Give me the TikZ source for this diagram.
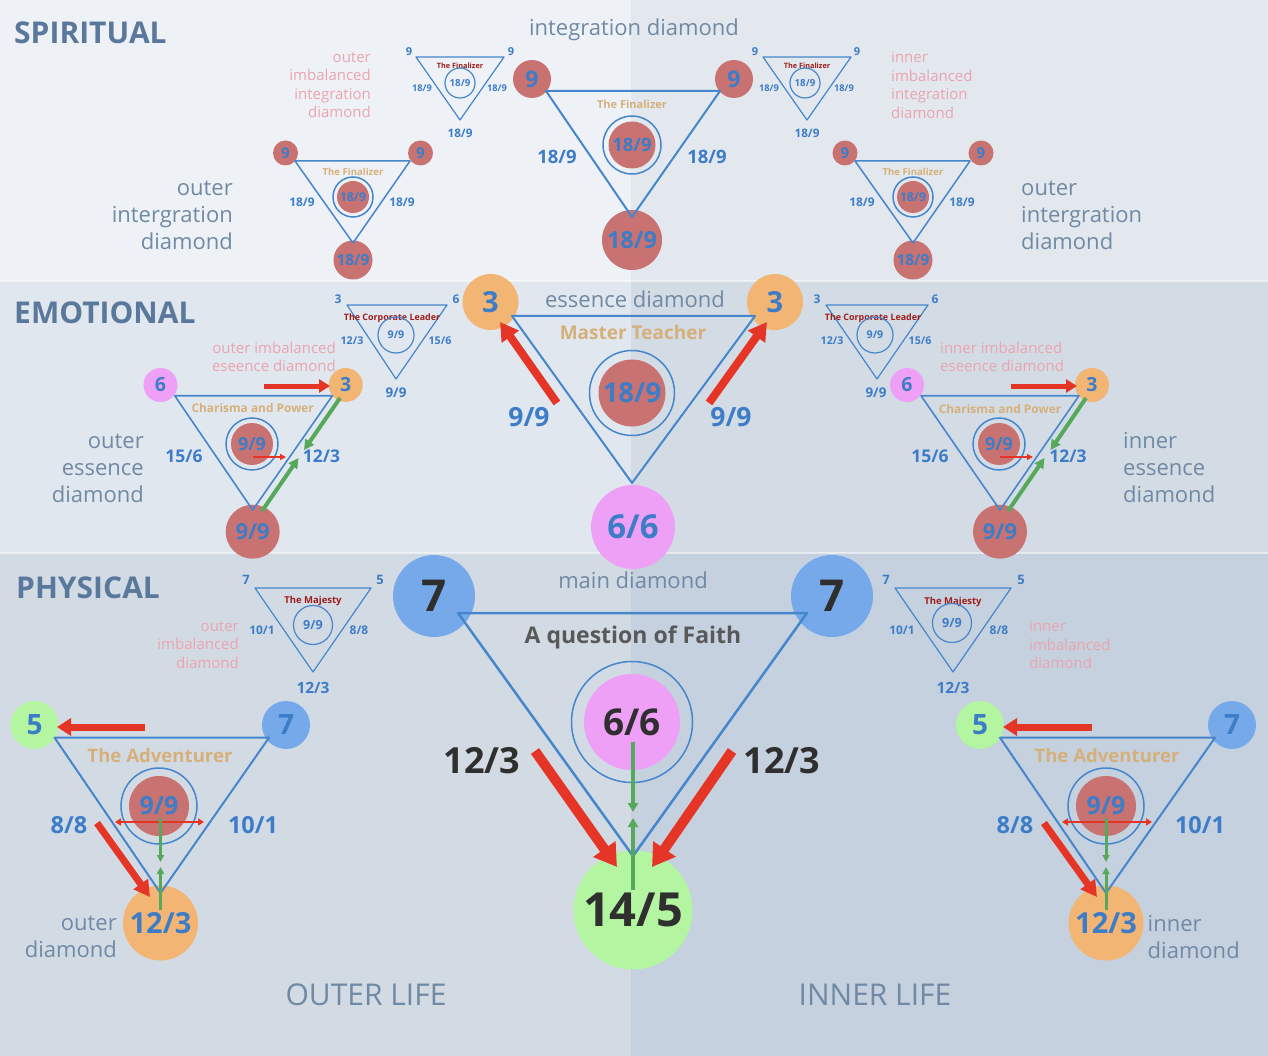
\documentclass[tikz,border=0pt]{standalone}
\usepackage{fontspec}
\setmainfont{Open Sans}
\usetikzlibrary{arrows.meta}

\definecolor{bgSL}{HTML}{EEF2F6}
\definecolor{bgSR}{HTML}{E2E8EE}
\definecolor{bgEL}{HTML}{E1E7EE}
\definecolor{bgER}{HTML}{D3DCE5}
\definecolor{bgPL}{HTML}{D2DBE4}
\definecolor{bgPR}{HTML}{C5D1DE}
\definecolor{titleblue}{HTML}{5A789C}
\definecolor{labgray}{HTML}{7089A4}
\definecolor{numblue}{HTML}{3D7DC8}
\definecolor{lineblue}{HTML}{4586CC}
\definecolor{redc}{HTML}{C87272}
\definecolor{orangec}{HTML}{F2B574}
\definecolor{pinkc}{HTML}{EEA0F6}
\definecolor{greenc}{HTML}{B3F5A0}
\definecolor{bluec}{HTML}{76A9EA}
\definecolor{goldtxt}{HTML}{D6B07A}
\definecolor{darkred}{HTML}{9E1C1C}
\definecolor{pinktxt}{HTML}{EBA4AF}
\definecolor{arrred}{HTML}{E53526}
\definecolor{arrgreen}{HTML}{56A85B}
\definecolor{darktxt}{HTML}{2F2F2F}
\definecolor{faithtxt}{HTML}{595959}

\begin{document}
\begin{tikzpicture}[x=1pt,y=-1pt,
    ball/.style 2 args={circle,fill=#1,minimum size=#2pt,inner sep=0pt},
    ring/.style={circle,draw=lineblue,line width=1.5pt,minimum size=#1pt,inner sep=0pt},
    triline/.style={draw=lineblue,line width=#1pt,line join=round},
    bfs/.style={font=\fontsize{#1}{#1}\selectfont\bfseries},
    num/.style={text=numblue,inner sep=0pt},
    dark/.style={text=darktxt,inner sep=0pt},
    gold/.style={text=goldtxt,inner sep=0pt},
    title/.style={anchor=west,inner sep=0pt,text=titleblue,font=\fontsize{30}{30}\selectfont\bfseries},
    dlab/.style={inner sep=0pt,text=labgray,font=\fontsize{22}{27}\selectfont},
    lifelab/.style={inner sep=0pt,text=labgray,font=\fontsize{30}{30}\selectfont},
    pinklab/.style={inner sep=0pt,text=pinktxt,font=\fontsize{15}{18.5}\selectfont},
    dred/.style={inner sep=0pt,text=darkred,font=\fontsize{#1}{#1}\selectfont\bfseries},
    rarr/.style n args={3}{draw=arrred,line width=#1pt,-{Triangle[length=#2pt,width=#3pt]}},
    rdbl/.style={draw=arrred,line width=2pt,{Triangle[length=6pt,width=7pt]}-{Triangle[length=6pt,width=7pt]}},
    garr/.style n args={3}{draw=arrgreen,line width=#1pt,-{Triangle[length=#2pt,width=#3pt]}},
  ]
  % background bands
  \useasboundingbox (0,0) rectangle (1268,1056);
  \fill[bgSL] (0,0) rectangle (631,281);
  \fill[bgSR] (631,0) rectangle (1268,281);
  \fill[bgEL] (0,281) rectangle (631,553);
  \fill[bgER] (631,281) rectangle (1268,553);
  \fill[bgPL] (0,553) rectangle (631,1056);
  \fill[bgPR] (631,553) rectangle (1268,1056);
  \draw[white,opacity=.5,line width=1.5pt] (0,281) -- (1268,281) (0,553) -- (1268,553);

  % band titles
  \node[title] (spirit) at (14,33) {SPIRITUAL};
  \node[title] (emot) at (14,313) {EMOTIONAL};
  \node[title] (phys) at (16,588) {PHYSICAL};
  \node[lifelab] (olife) at (366,995) {OUTER LIFE};
  \node[lifelab] (ilife) at (875,995) {INNER LIFE};

  % integration diamond
  \node[dlab] (intLab) at (634,30) {integration diamond};
  \node[ball={redc}{38},num,bfs=23] (iA) at (532,79) {9};
  \node[ball={redc}{38},num,bfs=23] (iB) at (734,79) {9};
  \node[ball={redc}{60},num,bfs=23.5] (iC) at (632,240) {18/9};
  \node[ring=58] (iRing) at (632,145) {};
  \node[ball={redc}{47},num,bfs=18.5] (iCore) at (632,145) {18/9};
  \coordinate (iA1) at (546,91);
  \coordinate (iB1) at (720,91);
  \coordinate (iC1) at (632,217);
  \draw[triline=2] (iA1) -- (iB1) -- (iC1) -- cycle;
  \node[gold,bfs=11] (iFin) at (632,104) {The Finalizer};
  \node[num,bfs=18.5] (iAC) at (557,157) {18/9};
  \node[num,bfs=18.5] (iBC) at (707,157) {18/9};

  % imbalanced integration diamonds
  \begin{scope}[shift={(460,57)}]
    \coordinate (sfL1) at (-44,0);
    \coordinate (sfL2) at (44,0);
    \coordinate (sfL3) at (0,63);
    \draw[triline=1.2] (sfL1) -- (sfL2) -- (sfL3) -- cycle;
    \node[num,bfs=11] (sfLa) at (-51,-5) {9};
    \node[num,bfs=11] (sfLb) at (51,-5) {9};
    \node[dred=7.3] (sfLt) at (0,9) {The Finalizer};
    \node[ring=30,line width=1.2pt,num,bfs=9.7] (sfLc) at (0,26) {18/9};
    \node[num,bfs=9.3] (sfLs) at (-38,31) {18/9};
    \node[num,bfs=9.3] (sfLr) at (37,31) {18/9};
    \node[num,bfs=11.7] (sfLd) at (0,76) {18/9};
  \end{scope}
  \begin{scope}[shift={(807,57)}]
    \coordinate (sfR1) at (-44,0);
    \coordinate (sfR2) at (44,0);
    \coordinate (sfR3) at (0,63);
    \draw[triline=1.2] (sfR1) -- (sfR2) -- (sfR3) -- cycle;
    \node[num,bfs=11] (sfRa) at (-52,-5) {9};
    \node[num,bfs=11] (sfRb) at (50,-5) {9};
    \node[dred=7.3] (sfRt) at (0,9) {The Finalizer};
    \node[ring=30,line width=1.2pt,num,bfs=9.7] (sfRc) at (-2,26) {18/9};
    \node[num,bfs=9.3] (sfRs) at (-38,31) {18/9};
    \node[num,bfs=9.3] (sfRr) at (37,31) {18/9};
    \node[num,bfs=11.7] (sfRd) at (0,76) {18/9};
  \end{scope}
  \node[pinklab,anchor=east,align=right] (sfLn) at (371,85) {outer\\imbalanced\\integration\\diamond};
  \node[pinklab,anchor=west,align=left] (sfRn) at (891,85) {inner\\imbalanced\\integration\\diamond};

  % outer integration diamonds
  \node[ball={redc}{25},num,bfs=15] (oiLa) at (285.5,153) {9};
  \node[ball={redc}{25},num,bfs=15] (oiLb) at (420.5,153) {9};
  \node[ball={redc}{39},num,bfs=15.5] (oiLc) at (353,260) {18/9};
  \node[ring=40] (oiLr) at (353,197) {};
  \node[ball={redc}{32},num,bfs=12.3] (oiLk) at (353,197) {18/9};
  \coordinate (oiL1) at (295,161);
  \coordinate (oiL2) at (410,161);
  \coordinate (oiL3) at (353,243);
  \draw[triline=1.5] (oiL1) -- (oiL2) -- (oiL3) -- cycle;
  \node[gold,bfs=9.6] (oiLt) at (353,172) {The Finalizer};
  \node[num,bfs=11.9] (oiLs) at (302,202) {18/9};
  \node[num,bfs=11.9] (oiLq) at (402,202) {18/9};
  \node[dlab,anchor=east,align=right] (oiLn) at (233,215) {outer\\intergration\\diamond};

  \node[ball={redc}{25},num,bfs=15] (oiRa) at (845,153) {9};
  \node[ball={redc}{25},num,bfs=15] (oiRb) at (981,153) {9};
  \node[ball={redc}{39},num,bfs=15.5] (oiRc) at (913,260) {18/9};
  \node[ring=40] (oiRr) at (913,197) {};
  \node[ball={redc}{32},num,bfs=12.3] (oiRk) at (913,197) {18/9};
  \coordinate (oiR1) at (855,161);
  \coordinate (oiR2) at (970,161);
  \coordinate (oiR3) at (913,243);
  \draw[triline=1.5] (oiR1) -- (oiR2) -- (oiR3) -- cycle;
  \node[gold,bfs=9.6] (oiRt) at (913,172) {The Finalizer};
  \node[num,bfs=11.9] (oiRs) at (862,202) {18/9};
  \node[num,bfs=11.9] (oiRq) at (962,202) {18/9};
  \node[dlab,anchor=west,align=left] (oiRn) at (1021,215) {outer\\intergration\\diamond};

  % essence diamond
  \node[dlab] (essLab) at (635,299) {essence diamond};
  \node[ball={orangec}{56},num,bfs=29] (eA) at (490.5,302) {3};
  \node[ball={orangec}{56},num,bfs=29] (eB) at (775,302) {3};
  \node[ball={pinkc}{84},num,bfs=33] (eC) at (633,527) {6/6};
  \node[ring=85] (eRing) at (632,393) {};
  \node[ball={redc}{67},num,bfs=27.5] (eCore) at (632,393) {18/9};
  \coordinate (eA1) at (512,316);
  \coordinate (eB1) at (755,316);
  \coordinate (eC1) at (632,483);
  \draw[triline=2] (eA1) -- (eB1) -- (eC1) -- cycle;
  \node[gold,bfs=19] (eMT) at (633,332) {Master Teacher};
  \coordinate (eAr0) at (557,403);
  \coordinate (eAr1) at (500,322);
  \draw[rarr={8}{18}{20}] (eAr0) -- (eAr1);
  \coordinate (eBr0) at (709,403);
  \coordinate (eBr1) at (767,322);
  \draw[rarr={8}{18}{20}] (eBr0) -- (eBr1);
  \node[num,bfs=26.5] (eAC) at (529,417) {9/9};
  \node[num,bfs=26.5] (eBC) at (731,417) {9/9};

  % imbalanced essence diamonds
  \begin{scope}[shift={(397,305)}]
    \coordinate (clL1) at (-50,0);
    \coordinate (clL2) at (50,0);
    \coordinate (clL3) at (-1,74);
    \draw[triline=1.2] (clL1) -- (clL2) -- (clL3) -- cycle;
    \node[num,bfs=12] (clLa) at (-59,-6) {3};
    \node[num,bfs=12] (clLb) at (59,-6) {6};
    \node[dred=8.9] (clLt) at (-5,13) {The Corporate Leader};
    \node[ring=36,line width=1.2pt,num,bfs=10.7] (clLc) at (-1,30) {9/9};
    \node[num,bfs=10.7] (clLs) at (-45,36) {12/3};
    \node[num,bfs=10.7] (clLr) at (43,36) {15/6};
    \node[num,bfs=13.4] (clLd) at (-1,88) {9/9};
  \end{scope}
  \begin{scope}[shift={(877,305)}]
    \coordinate (clR1) at (-51,0);
    \coordinate (clR2) at (51,0);
    \coordinate (clR3) at (0,74);
    \draw[triline=1.2] (clR1) -- (clR2) -- (clR3) -- cycle;
    \node[num,bfs=12] (clRa) at (-60,-6) {3};
    \node[num,bfs=12] (clRb) at (58,-6) {6};
    \node[dred=8.9] (clRt) at (-4,13) {The Corporate Leader};
    \node[ring=36,line width=1.2pt,num,bfs=10.7] (clRc) at (-2,30) {9/9};
    \node[num,bfs=10.7] (clRs) at (-45,36) {12/3};
    \node[num,bfs=10.7] (clRr) at (43,36) {15/6};
    \node[num,bfs=13.4] (clRd) at (-1,88) {9/9};
  \end{scope}
  \node[pinklab,anchor=east,align=right] (clLn) at (336,357) {outer imbalanced\\eseence diamond};
  \node[pinklab,anchor=west,align=left] (clRn) at (940,357) {inner imbalanced\\eseence diamond};

  % outer essence diamond
  \node[ball={pinkc}{34},num,bfs=19.5] (oeLa) at (160.5,385) {6};
  \node[ball={orangec}{34},num,bfs=19.5] (oeLb) at (345.7,385) {3};
  \node[ball={redc}{54},num,bfs=22] (oeLc) at (252.7,531.7) {9/9};
  \node[ring=52] (oeLr) at (252,444) {};
  \node[ball={redc}{42},num,bfs=18] (oeLk) at (252,444) {9/9};
  \coordinate (oeL1) at (174.7,395.7);
  \coordinate (oeL2) at (332.4,395.7);
  \coordinate (oeL3) at (252.7,510);
  \draw[triline=1.6] (oeL1) -- (oeL2) -- (oeL3) -- cycle;
  \node[gold,bfs=11.9] (oeLt) at (252.7,408) {Charisma and Power};
  \node[num,bfs=17.5] (oeLs) at (184,456) {15/6};
  \node[num,bfs=17.5] (oeLq) at (321.5,456) {12/3};
  \coordinate (oeLh0) at (264,386);
  \coordinate (oeLh1) at (330,386);
  \draw[rarr={5}{11}{13}] (oeLh0) -- (oeLh1);
  \coordinate (oeLm0) at (253,457);
  \coordinate (oeLm1) at (286,457);
  \draw[rarr={2}{6}{6}] (oeLm0) -- (oeLm1);
  \coordinate (oeLg0) at (340,398);
  \coordinate (oeLg1) at (304,450);
  \draw[garr={4}{10}{10}] (oeLg0) -- (oeLg1);
  \coordinate (oeLg2) at (262,511);
  \coordinate (oeLg3) at (298.5,458);
  \draw[garr={4}{10}{10}] (oeLg2) -- (oeLg3);
  \node[dlab,anchor=east,align=right] (oeLn) at (144,468) {outer\\essence\\diamond};

  % inner essence diamond
  \node[ball={pinkc}{34},num,bfs=19.5] (oeRa) at (907,385) {6};
  \node[ball={orangec}{34},num,bfs=19.5] (oeRb) at (1092,385) {3};
  \node[ball={redc}{54},num,bfs=22] (oeRc) at (1000,531.7) {9/9};
  \node[ring=52] (oeRr) at (999,444) {};
  \node[ball={redc}{42},num,bfs=18] (oeRk) at (999,444) {9/9};
  \coordinate (oeR1) at (921,395.7);
  \coordinate (oeR2) at (1079,395.7);
  \coordinate (oeR3) at (1000,510);
  \draw[triline=1.6] (oeR1) -- (oeR2) -- (oeR3) -- cycle;
  \node[gold,bfs=11.9] (oeRt) at (1000,409) {Charisma and Power};
  \node[num,bfs=17.5] (oeRs) at (930,456) {15/6};
  \node[num,bfs=17.5] (oeRq) at (1068,456) {12/3};
  \coordinate (oeRh0) at (1011,386);
  \coordinate (oeRh1) at (1077,386);
  \draw[rarr={5}{11}{13}] (oeRh0) -- (oeRh1);
  \coordinate (oeRm0) at (1000,457);
  \coordinate (oeRm1) at (1033,457);
  \draw[rarr={2}{6}{6}] (oeRm0) -- (oeRm1);
  \coordinate (oeRg0) at (1086,398);
  \coordinate (oeRg1) at (1050.5,450);
  \draw[garr={4}{10}{10}] (oeRg0) -- (oeRg1);
  \coordinate (oeRg2) at (1008,511);
  \coordinate (oeRg3) at (1044.5,458);
  \draw[garr={4}{10}{10}] (oeRg2) -- (oeRg3);
  \node[dlab,anchor=west,align=left] (oeRn) at (1123,468) {inner\\essence\\diamond};

  % main diamond
  \node[dlab] (mainLab) at (633,580) {main diamond};
  \node[ball={bluec}{82},dark,bfs=44] (mA) at (434,596) {7};
  \node[ball={bluec}{82},dark,bfs=44] (mB) at (832,596) {7};
  \node[ball={greenc}{119},dark,bfs=47] (mC) at (633,910) {14/5};
  \node[ring=121] (mRing) at (632,722) {};
  \node[ball={pinkc}{96},dark,bfs=37] (mCore) at (632,722) {6/6};
  \coordinate (mA1) at (458,613);
  \coordinate (mB1) at (807,613);
  \coordinate (mC1) at (633,856);
  \draw[triline=2.5] (mA1) -- (mB1) -- (mC1) -- cycle;
  \node[text=faithtxt,inner sep=0pt,bfs=23] (mFaith) at (633,637) {A question of Faith};
  \coordinate (mAr0) at (535,751);
  \coordinate (mAr1) at (617,867);
  \draw[rarr={10}{22}{26}] (mAr0) -- (mAr1);
  \coordinate (mBr0) at (732,751);
  \coordinate (mBr1) at (652,867);
  \draw[rarr={10}{22}{26}] (mBr0) -- (mBr1);
  \node[dark,bfs=36] (mAC) at (482,761) {12/3};
  \node[dark,bfs=36] (mBC) at (782,761) {12/3};
  \coordinate (mG0) at (633,742);
  \coordinate (mG1) at (633,812);
  \draw[garr={4}{9}{10}] (mG0) -- (mG1);
  \coordinate (mG2) at (633,890);
  \coordinate (mG3) at (633,818);
  \draw[garr={4}{9}{10}] (mG2) -- (mG3);

  % imbalanced physical diamonds
  \begin{scope}[shift={(313,588)}]
    \coordinate (mjL1) at (-58,0);
    \coordinate (mjL2) at (58,0);
    \coordinate (mjL3) at (0,84);
    \draw[triline=1.2] (mjL1) -- (mjL2) -- (mjL3) -- cycle;
    \node[num,bfs=13] (mjLa) at (-67,-8) {7};
    \node[num,bfs=13] (mjLb) at (67,-8) {5};
    \node[dred=9.5] (mjLt) at (0,13) {The Majesty};
    \node[ring=39,line width=1.2pt,num,bfs=12.6] (mjLc) at (0,37) {9/9};
    \node[num,bfs=11.9] (mjLs) at (-51,42) {10/1};
    \node[num,bfs=12] (mjLr) at (46,42) {8/8};
    \node[num,bfs=15.5] (mjLd) at (0,100) {12/3};
  \end{scope}
  \begin{scope}[shift={(953,588)}]
    \coordinate (mjR1) at (-58,0);
    \coordinate (mjR2) at (58,0);
    \coordinate (mjR3) at (0,84);
    \draw[triline=1.2] (mjR1) -- (mjR2) -- (mjR3) -- cycle;
    \node[num,bfs=13] (mjRa) at (-67,-8) {7};
    \node[num,bfs=13] (mjRb) at (68,-8) {5};
    \node[dred=9.5] (mjRt) at (0,14) {The Majesty};
    \node[ring=39,line width=1.2pt,num,bfs=12.6] (mjRc) at (-1,35) {9/9};
    \node[num,bfs=11.9] (mjRs) at (-51,42) {10/1};
    \node[num,bfs=12] (mjRr) at (46,42) {8/8};
    \node[num,bfs=15.5] (mjRd) at (0,100) {12/3};
  \end{scope}
  \node[pinklab,anchor=east,align=right] (mjLn) at (239,645) {outer\\imbalanced\\diamond};
  \node[pinklab,anchor=west,align=left] (mjRn) at (1029,645) {inner\\imbalanced\\diamond};

  % outer diamond
  \node[ball={greenc}{48},num,bfs=28] (adLa) at (34.5,725) {5};
  \node[ball={bluec}{48},num,bfs=28] (adLb) at (286,725) {7};
  \node[ball={orangec}{75},num,bfs=29] (adLc) at (160.5,923) {12/3};
  \node[ring=76] (adLr) at (159,806) {};
  \node[ball={redc}{60},num,bfs=25] (adLk) at (159,806) {9/9};
  \coordinate (adL1) at (54.6,737.7);
  \coordinate (adL2) at (269,737.7);
  \coordinate (adL3) at (160.5,893);
  \draw[triline=2] (adL1) -- (adL2) -- (adL3) -- cycle;
  \node[gold,bfs=18.6] (adLt) at (160,756) {The Adventurer};
  \node[num,bfs=23.5] (adLs) at (69,825) {8/8};
  \node[num,bfs=23.5] (adLq) at (253,825) {10/1};
  \coordinate (adLh0) at (115,822);
  \coordinate (adLh1) at (204,822);
  \draw[rdbl] (adLh0) -- (adLh1);
  \coordinate (adLg0) at (160.5,818);
  \coordinate (adLg1) at (160.5,862);
  \draw[garr={3}{7}{7}] (adLg0) -- (adLg1);
  \coordinate (adLg2) at (160.5,910);
  \coordinate (adLg3) at (160.5,867);
  \draw[garr={3}{7}{7}] (adLg2) -- (adLg3);
  \coordinate (adLd0) at (97,823);
  \coordinate (adLd1) at (150,897);
  \draw[rarr={7}{16}{17}] (adLd0) -- (adLd1);
  \coordinate (adLp0) at (145,727);
  \coordinate (adLp1) at (57,727);
  \draw[rarr={7}{14}{17}] (adLp0) -- (adLp1);
  \node[dlab,anchor=east,align=right] (adLn) at (117,937) {outer\\diamond};

  % inner diamond
  \node[ball={greenc}{48},num,bfs=28] (adRa) at (980,725) {5};
  \node[ball={bluec}{48},num,bfs=28] (adRb) at (1232,725) {7};
  \node[ball={orangec}{75},num,bfs=29] (adRc) at (1106,923) {12/3};
  \node[ring=76] (adRr) at (1106,806) {};
  \node[ball={redc}{60},num,bfs=25] (adRk) at (1106,806) {9/9};
  \coordinate (adR1) at (1000,737.7);
  \coordinate (adR2) at (1215,737.7);
  \coordinate (adR3) at (1106,893);
  \draw[triline=2] (adR1) -- (adR2) -- (adR3) -- cycle;
  \node[gold,bfs=18.6] (adRt) at (1107,756) {The Adventurer};
  \node[num,bfs=23.5] (adRs) at (1015,825) {8/8};
  \node[num,bfs=23.5] (adRq) at (1200,825) {10/1};
  \coordinate (adRh0) at (1062,822);
  \coordinate (adRh1) at (1152,822);
  \draw[rdbl] (adRh0) -- (adRh1);
  \coordinate (adRg0) at (1106,818);
  \coordinate (adRg1) at (1106,862);
  \draw[garr={3}{7}{7}] (adRg0) -- (adRg1);
  \coordinate (adRg2) at (1106,910);
  \coordinate (adRg3) at (1106,867);
  \draw[garr={3}{7}{7}] (adRg2) -- (adRg3);
  \coordinate (adRd0) at (1044,823);
  \coordinate (adRd1) at (1097,897);
  \draw[rarr={7}{16}{17}] (adRd0) -- (adRd1);
  \coordinate (adRp0) at (1092,727);
  \coordinate (adRp1) at (1003,727);
  \draw[rarr={7}{14}{17}] (adRp0) -- (adRp1);
  \node[dlab,anchor=west,align=left] (adRn) at (1147.5,937) {inner\\diamond};
\end{tikzpicture}
\end{document}
